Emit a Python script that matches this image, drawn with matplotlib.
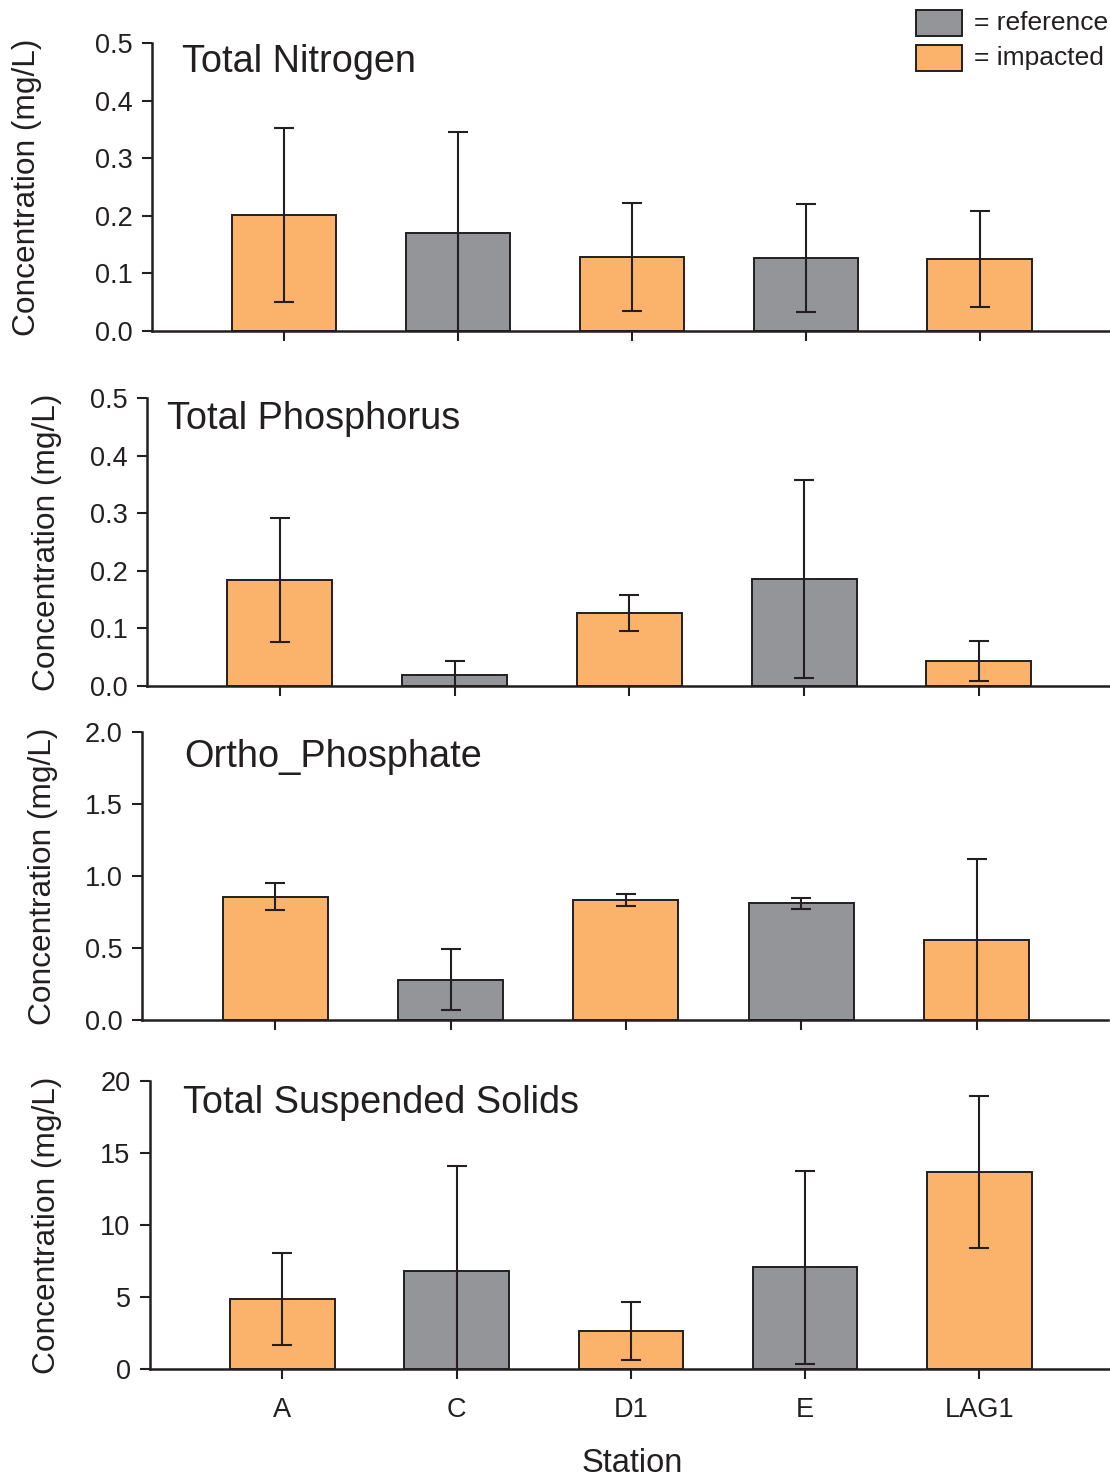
import numpy as np
import matplotlib
matplotlib.use("Agg")
import matplotlib.pyplot as plt
from matplotlib.patches import Rectangle

plt.rcParams['font.family'] = ['Liberation Sans', 'DejaVu Sans']

# station means and error (+/-) for each parameter
stations = ['A', 'C', 'D1', 'E', 'LAG1']
impacted = [True, False, True, False, True]

tn_mean = [0.201, 0.170, 0.128, 0.127, 0.125]
tn_err = [0.151, 0.175, 0.094, 0.094, 0.083]

tp_mean = [0.184, 0.019, 0.127, 0.186, 0.043]
tp_err = [0.107, 0.024, 0.031, 0.172, 0.035]

op_mean = [0.855, 0.278, 0.833, 0.812, 0.556]
op_err = [0.094, 0.212, 0.042, 0.038, 0.560]

tss_mean = [4.86, 6.81, 2.64, 7.08, 13.68]
tss_err = [3.17, 7.30, 2.01, 6.70, 5.28]

panels = [
    ('Total Nitrogen', tn_mean, tn_err, 0.5, 0.1, '{:.1f}'),
    ('Total Phosphorus', tp_mean, tp_err, 0.5, 0.1, '{:.1f}'),
    ('Ortho_Phosphate', op_mean, op_err, 2.0, 0.5, '{:.1f}'),
    ('Total Suspended Solids', tss_mean, tss_err, 20, 5, '{:.0f}'),
]

# pixel boxes: left, top, bottom, right ; title x,y ; ylabel x
boxes = [
    (152, 43, 331, 1110, 182, 62, 27),
    (147, 398, 686, 1110, 167, 419, 47),
    (142, 732, 1020, 1108, 184, 757, 43),
    (150, 1081, 1369, 1110, 183, 1103, 47),
]

W, H = 1110, 1477
fig = plt.figure(figsize=(W / 100, H / 100), dpi=100)

orange = '#FBB36B'
gray = '#949599'
ink = '#231F20'
colors = [orange if imp else gray for imp in impacted]

x = np.arange(len(stations))
for (title, mean, err, ymax, step, fmt), (l, t, b, r, tx, ty, lx) in zip(panels, boxes):
    ax = fig.add_axes([l / W, 1 - b / H, (r - l) / W, (b - t) / H])
    ax.bar(x, mean, width=0.6, color=colors, edgecolor=ink, linewidth=1.4, zorder=2)
    ax.errorbar(x, mean, yerr=err, fmt='none', ecolor=ink, elinewidth=1.5,
                capsize=7.5, capthick=1.5, zorder=3)
    ax.set_xlim(-0.76, 4.75)
    ax.set_ylim(0, ymax)
    ticks = np.arange(0, ymax + step / 2, step)
    ax.set_yticks(ticks)
    ax.set_yticklabels([fmt.format(v) for v in ticks])
    ax.set_xticks(x)
    if title == 'Total Suspended Solids':
        ax.set_xticklabels(stations)
    else:
        ax.set_xticklabels([])
    for s in ['top', 'right']:
        ax.spines[s].set_visible(False)
    for s in ['left', 'bottom']:
        ax.spines[s].set_linewidth(1.8)
        ax.spines[s].set_color(ink)
    ax.tick_params(direction='out', length=7, width=1.5, color=ink,
                   labelsize=19.5, labelcolor=ink, pad=7)
    ax.tick_params(axis='x', pad=13)
    fig.text(tx / W, 1 - ty / H, title, fontsize=27.3, color=ink, ha='left', va='center')
    fig.text(lx / W, 1 - (t + b) / 2 / H, 'Concentration (mg/L)', fontsize=22.8,
             color=ink, rotation=90, ha='center', va='center')

fig.text(632 / W, 1 - 1463 / H, 'Station', fontsize=23.5, color=ink, ha='center', va='center')

# legend boxes in the top right corner
for (y0, c, lab) in [(10, gray, '= reference'), (45, orange, '= impacted')]:
    fig.patches.append(Rectangle((916 / W, 1 - (y0 + 26) / H), 46 / W, 26 / H,
                                 transform=fig.transFigure, facecolor=c,
                                 edgecolor=ink, linewidth=1.4))
    fig.text(974 / W, 1 - (y0 + 13) / H, lab, fontsize=19, color=ink,
             ha='left', va='center')

fig.savefig('out.png', dpi=100)
